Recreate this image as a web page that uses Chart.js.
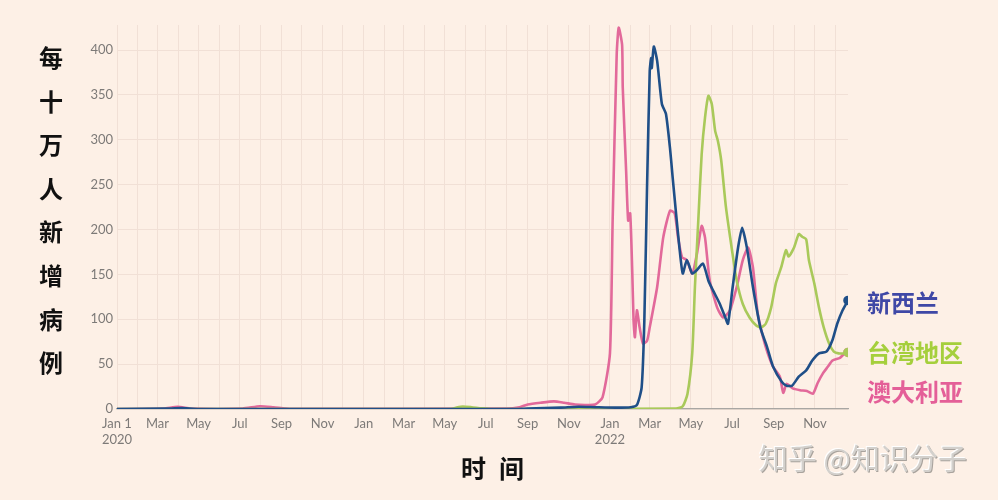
<!DOCTYPE html>
<html>
<head>
<meta charset="utf-8">
<script src="https://cdn.jsdelivr.net/npm/chart.js@4.4.1/dist/chart.umd.min.js"></script>
<style>
  body { margin: 0; background: #fdf0e6; }
  #wrap { position: relative; width: 998px; height: 500px; background: #fdf0e6; overflow: hidden; }
  #myChart { position: absolute; left: 0; top: 0; }
  .ytitle { position: absolute; left: 34px; top: 35px; width: 34px; text-align: center;
    font: bold 24px "Noto Sans CJK SC"; line-height: 43.6px; color: #111; }
  .xtitle { position: absolute; left: 461px; top: 449px; font: bold 25px "Noto Sans CJK SC"; color: #111; letter-spacing: 13px; }
  .mark { position: absolute; left: 759px; top: 436px; font: 29px "Noto Sans CJK SC"; color: #d3d0cc;
    text-shadow: -1px -1px 0 #ffffff, 1px 1px 0 #a9a39d; }
</style>
</head>
<body>
<div id="wrap">
  <canvas id="myChart" width="998" height="500"></canvas>
  <div class="ytitle">每<br>十<br>万<br>人<br>新<br>增<br>病<br>例</div>
  <div class="xtitle">时间</div>
  <div class="mark">知乎 @知识分子</div>
</div>
<script>
// 每十万人新增病例 (7日平均)
var nzDates = ['2020-01-01', '2020-03-20', '2020-04-05', '2020-05-01', '2021-08-15', '2021-09-01', '2021-10-20',
  '2021-11-15', '2021-12-10', '2022-01-10', '2022-02-01', '2022-02-10', '2022-02-17', '2022-02-21', '2022-02-25',
  '2022-03-01', '2022-03-03', '2022-03-04', '2022-03-07', '2022-03-12', '2022-03-19', '2022-03-25', '2022-03-31',
  '2022-04-04', '2022-04-09', '2022-04-14', '2022-04-19', '2022-04-25', '2022-05-03', '2022-05-10', '2022-05-19',
  '2022-05-27', '2022-06-03', '2022-06-13', '2022-06-21', '2022-06-25', '2022-07-02', '2022-07-10', '2022-07-16',
  '2022-07-23', '2022-08-01', '2022-08-12', '2022-08-22', '2022-08-31', '2022-09-13', '2022-09-20', '2022-09-28',
  '2022-10-08', '2022-10-19', '2022-10-28', '2022-11-07', '2022-11-18', '2022-11-27', '2022-12-04', '2022-12-12',
  '2022-12-20'];
var nzValues = [0, 0.5, 1, 0, 0, 0.5, 1.5, 2.5, 2, 1.5, 2, 4.5, 24, 99, 247, 377, 391, 380, 404, 388, 340, 329, 291,
  258, 218, 180, 151, 166, 151, 155, 162, 143, 132, 117, 102, 95, 136, 180, 202, 180, 136, 91, 69, 47, 30, 26, 26,
  36, 43, 54, 62, 64, 77, 95, 110, 121];

var twDates = ['2020-01-01', '2021-05-10', '2021-05-20', '2021-05-28', '2021-06-10', '2021-06-25', '2021-07-10',
  '2022-04-09', '2022-04-19', '2022-04-26', '2022-05-03', '2022-05-07', '2022-05-12', '2022-05-17', '2022-05-22',
  '2022-05-27', '2022-06-01', '2022-06-06', '2022-06-10', '2022-06-15', '2022-06-22', '2022-07-01', '2022-07-08',
  '2022-07-17', '2022-07-27', '2022-08-06', '2022-08-13', '2022-08-20', '2022-08-28', '2022-09-04', '2022-09-12',
  '2022-09-19', '2022-09-23', '2022-10-01', '2022-10-08', '2022-10-13', '2022-10-19', '2022-10-23', '2022-10-31',
  '2022-11-07', '2022-11-14', '2022-11-22', '2022-11-29', '2022-12-06', '2022-12-15', '2022-12-20'];
var twValues = [0, 0, 2, 2.8, 2, 0.8, 0, 0.5, 3, 17, 62, 136, 210, 284, 325, 349, 340, 310, 299, 277, 225, 177, 143,
  117, 102, 93, 91, 95, 113, 140, 158, 177, 170, 180, 195, 192, 189, 166, 140, 113, 91, 73, 64, 62, 62, 63];

var auDates = ['2020-01-01', '2020-03-10', '2020-03-31', '2020-04-20', '2020-07-05', '2020-07-31', '2020-08-20',
  '2020-09-15', '2021-08-01', '2021-08-20', '2021-09-01', '2021-09-20', '2021-10-10', '2021-10-25', '2021-11-10',
  '2021-11-25', '2021-12-10', '2021-12-21', '2022-01-01', '2022-01-05', '2022-01-11', '2022-01-14', '2022-01-19',
  '2022-01-20', '2022-01-25', '2022-01-28', '2022-01-31', '2022-02-03', '2022-02-05', '2022-02-07', '2022-02-10',
  '2022-02-14', '2022-02-19', '2022-02-25', '2022-03-01', '2022-03-12', '2022-03-21', '2022-03-31', '2022-04-07',
  '2022-04-12', '2022-04-18', '2022-04-25', '2022-05-03', '2022-05-10', '2022-05-17', '2022-05-22', '2022-05-29',
  '2022-06-09', '2022-06-18', '2022-06-28', '2022-07-08', '2022-07-17', '2022-07-25', '2022-08-01', '2022-08-08',
  '2022-08-16', '2022-08-23', '2022-08-31', '2022-09-10', '2022-09-15', '2022-09-20', '2022-09-29', '2022-10-10',
  '2022-10-20', '2022-10-29', '2022-11-05', '2022-11-13', '2022-11-20', '2022-11-27', '2022-12-08', '2022-12-15',
  '2022-12-20'];
var auValues = [0, 0.5, 2.5, 0.5, 0.5, 3, 2, 0.3, 0.5, 2, 5, 7, 8.5, 7, 5, 4.5, 5, 13, 62, 210, 395, 425, 406, 358,
  265, 210, 218, 155, 99, 80, 110, 91, 73, 76, 91, 136, 191, 221, 218, 191, 169, 166, 151, 173, 204, 191, 143, 113,
  102, 110, 136, 166, 180, 158, 107, 80, 62, 47, 36, 18, 28, 23, 21, 20, 17, 29, 40, 47, 54, 57, 62, 63];

var seriesNames = ['新西兰', '台湾地区', '澳大利亚'];
var monthNames = ['Jan', 'Feb', 'Mar', 'Apr', 'May', 'Jun', 'Jul', 'Aug', 'Sep', 'Oct', 'Nov', 'Dec'];
var yTicks = [0, 50, 100, 150, 200, 250, 300, 350, 400];

var dayZero = Date.UTC(2020, 0, 1);
function toDay(s) {
  var p = s.split('-');
  return (Date.UTC(+p[0], +p[1] - 1, +p[2]) - dayZero) / 86400000;
}
function points(dates, values) {
  return dates.map(function (d, i) { return { x: toDay(d), y: values[i] }; });
}

// monthly tick positions, Jan 2020 .. Dec 2022
var monthTicks = [];
for (var y = 2020; y <= 2022; y++) {
  for (var m = 0; m < 12; m++) {
    monthTicks.push({ value: (Date.UTC(y, m, 1) - dayZero) / 86400000, year: y, month: m });
  }
}

var colors = ['#1f4f88', '#a9c95a', '#e2699a'];
var labelColors = ['#3f48a6', '#a5cf3c', '#e45f98'];

function lastDot(n) {
  return function (ctx) { return ctx.dataIndex === n - 1 ? 3.5 : 0; };
}

var endLabels = {
  id: 'endLabels',
  afterDatasetsDraw: function (chart) {
    var c = chart.ctx;
    var ys = chart.scales.y;
    var yb = ys.getPixelForValue(nzValues[nzValues.length - 1]) + 2;
    var yg = ys.getPixelForValue(twValues[twValues.length - 1]);
    var pos = [yb, yg, yg + 39];
    c.save();
    c.font = 'bold 24px "Noto Sans CJK SC"';
    c.textBaseline = 'middle';
    for (var i = 0; i < 3; i++) {
      c.fillStyle = labelColors[i];
      c.fillText(seriesNames[i], 867, pos[i]);
    }
    c.restore();
  }
};

var ctx = document.getElementById('myChart').getContext('2d');
var myChart = new Chart(ctx, {
  type: 'line',
  data: {
    datasets: [
      { label: seriesNames[0], data: points(nzDates, nzValues), borderColor: colors[0], backgroundColor: colors[0],
        borderWidth: 2.6, pointRadius: lastDot(nzDates.length), tension: 0.2 },
      { label: seriesNames[1], data: points(twDates, twValues), borderColor: colors[1], backgroundColor: colors[1],
        borderWidth: 2.6, pointRadius: lastDot(twDates.length), tension: 0.2 },
      { label: seriesNames[2], data: points(auDates, auValues), borderColor: colors[2], backgroundColor: colors[2],
        borderWidth: 2.6, pointRadius: lastDot(auDates.length), tension: 0.2 }
    ]
  },
  options: {
    responsive: false,
    animation: false,
    layout: { padding: { top: 25, right: 150, left: 0, bottom: 0 } },
    plugins: { legend: { display: false }, tooltip: { enabled: false } },
    scales: {
      x: {
        type: 'linear',
        min: 0,
        max: toDay('2022-12-20'),
        afterBuildTicks: function (scale) {
          scale.ticks = monthTicks.map(function (t) { return { value: t.value }; });
        },
        afterFit: function (scale) { scale.height = 91; },
        ticks: {
          autoSkip: false,
          maxRotation: 0,
          padding: 7,
          color: '#7d7a78',
          font: { family: 'Lato', size: 13 },
          callback: function (v, i) {
            var t = monthTicks[i];
            if (!t || t.month % 2 !== 0) return '';
            if (t.month === 0 && t.year === 2020) return ['Jan 1', '2020'];
            if (t.month === 0 && t.year === 2022) return ['Jan', '2022'];
            return monthNames[t.month];
          }
        },
        grid: { color: '#f1e0d6', drawTicks: false, lineWidth: 1 },
        border: { display: true, color: '#a8a6a3', width: 1.2 }
      },
      y: {
        min: 0,
        max: 428,
        afterBuildTicks: function (scale) {
          scale.ticks = yTicks.map(function (v) { return { value: v }; });
        },
        afterFit: function (scale) { scale.width = 117; },
        ticks: {
          padding: 4,
          color: '#7d7a78',
          font: { family: 'Lato', size: 13 }
        },
        grid: { color: '#f1e0d6', drawTicks: false, lineWidth: 1 },
        border: { display: false }
      }
    }
  },
  plugins: [endLabels]
});
</script>
</body>
</html>
